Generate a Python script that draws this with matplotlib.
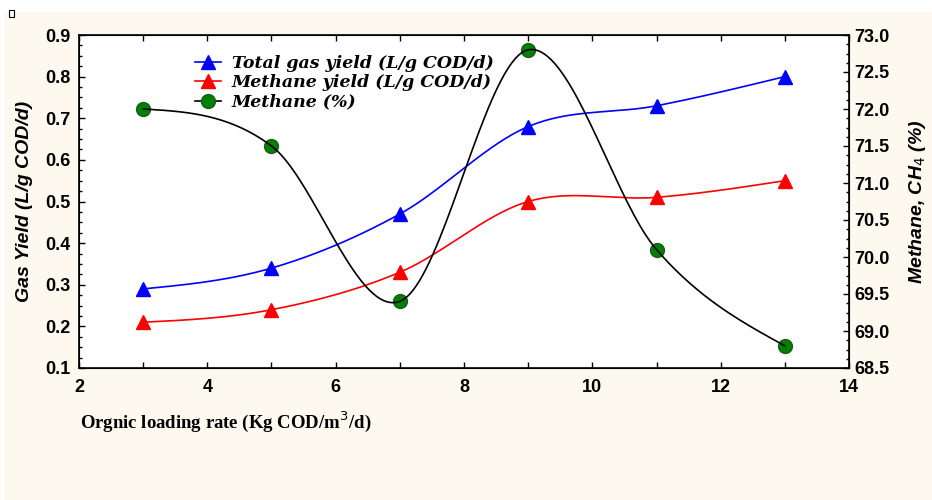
import numpy as np
import matplotlib
matplotlib.use('Agg')
import matplotlib.pyplot as plt
from matplotlib.patches import Rectangle
from matplotlib.ticker import MultipleLocator, FormatStrFormatter
from matplotlib.font_manager import FontProperties

olr = [3, 5, 7, 9, 11, 13]
total_gas = [0.29, 0.34, 0.47, 0.68, 0.73, 0.80]
methane_yield = [0.21, 0.24, 0.33, 0.50, 0.51, 0.55]
methane_pct = [72.0, 71.5, 69.4, 72.8, 70.1, 68.8]


def smooth(x, y, n=40):
    # hermite curve through the points, catmull-rom tangents inside, natural ends
    x = np.asarray(x, float)
    y = np.asarray(y, float)
    m = np.zeros_like(y)
    m[1:-1] = (y[2:] - y[:-2]) / (x[2:] - x[:-2])
    d0 = (y[1] - y[0]) / (x[1] - x[0])
    d1 = (y[-1] - y[-2]) / (x[-1] - x[-2])
    m[0] = (3 * d0 - m[1]) / 2
    m[-1] = (3 * d1 - m[-2]) / 2
    xs, ys = [], []
    for i in range(len(x) - 1):
        h = x[i + 1] - x[i]
        t = np.linspace(0, 1, n)
        h00 = 2 * t**3 - 3 * t**2 + 1
        h10 = t**3 - 2 * t**2 + t
        h01 = -2 * t**3 + 3 * t**2
        h11 = t**3 - t**2
        xs.append(x[i] + t * h)
        ys.append(h00 * y[i] + h10 * h * m[i] + h01 * y[i + 1] + h11 * h * m[i + 1])
    return np.concatenate(xs), np.concatenate(ys)


fig = plt.figure(figsize=(9.32, 5.0), dpi=100, facecolor='white')
fig.patches.append(Rectangle((4 / 932, 0), 1, 488 / 500, transform=fig.transFigure,
                             facecolor='#fdf9ee', edgecolor='none', zorder=-2))
fig.patches.append(Rectangle((9 / 932, 483 / 500), 5 / 932, 7 / 500, transform=fig.transFigure,
                             facecolor='none', edgecolor='black', linewidth=0.8, zorder=-1))

ax = fig.add_axes([79 / 932, 132 / 500, 770 / 932, 333 / 500])
ax.set_facecolor('white')
ax2 = ax.twinx()

tick_font = FontProperties(family='Liberation Sans', weight='bold', size=13)

ax.set_xlim(2, 14)
ax.set_ylim(0.1, 0.9)
ax2.set_ylim(68.5, 73.0)
ax.xaxis.set_major_locator(MultipleLocator(2))
ax.xaxis.set_minor_locator(MultipleLocator(1))
ax.yaxis.set_major_locator(MultipleLocator(0.1))
ax.yaxis.set_minor_locator(MultipleLocator(0.025))
ax2.yaxis.set_major_locator(MultipleLocator(0.5))
ax2.yaxis.set_minor_locator(MultipleLocator(0.125))
ax.yaxis.set_major_formatter(FormatStrFormatter('%.1f'))
ax2.yaxis.set_major_formatter(FormatStrFormatter('%.1f'))

ax.tick_params(axis='x', which='both', direction='in', top=True, length=4, width=1, pad=8)
ax.tick_params(axis='y', which='major', direction='in', length=4, width=1, pad=6)
ax.tick_params(axis='y', which='minor', direction='in', length=2, width=1)
ax2.tick_params(axis='y', which='major', direction='in', length=4, width=1, pad=4)
ax2.tick_params(axis='y', which='minor', direction='in', length=2, width=1)
for lab in ax.get_xticklabels() + ax.get_yticklabels() + ax2.get_yticklabels():
    lab.set_fontproperties(tick_font)
for sp in ax.spines.values():
    sp.set_linewidth(1.2)

xs, ys = smooth(olr, total_gas)
ax.plot(xs, ys, color='blue', lw=1.2, zorder=4)
ax.plot(olr, total_gas, '^', color='blue', ms=10, zorder=3)
xs, ys = smooth(olr, methane_yield)
ax.plot(xs, ys, color='red', lw=1.2, zorder=4)
ax.plot(olr, methane_yield, '^', color='red', ms=10, zorder=3)
xs, ys = smooth(olr, methane_pct)
ax2.plot(xs, ys, color='black', lw=1.2, zorder=4)
ax2.plot(olr, methane_pct, 'o', color='green', mec='#1a5c1a', ms=10, zorder=3)

ax.set_ylabel('Gas Yield (L/g COD/d)', family='Liberation Sans', weight='bold',
              style='italic', size=14, labelpad=9)
ax2.set_ylabel('Methane, CH$_4$ (%)', family='Liberation Sans', weight='bold',
               style='italic', size=14, labelpad=12)
fig.text(80 / 932, 78 / 500, 'Orgnic loading rate (Kg COD/m$^3$/d)', family='Liberation Serif',
         weight='bold', size=13.5, ha='left', va='center')

handles = [
    plt.Line2D([], [], color='blue', marker='^', ms=10, lw=1.2),
    plt.Line2D([], [], color='red', marker='^', ms=10, lw=1.2),
    plt.Line2D([], [], color='black', marker='o', mfc='green', mec='#1a5c1a', ms=10, lw=1.2),
]
labels = ['Total gas yield (L/g COD/d)', 'Methane yield (L/g COD/d)', 'Methane (%)']
ax2.legend(handles, labels, loc='upper left', bbox_to_anchor=(0.142, 0.962), borderaxespad=0,
           frameon=False, handlelength=1.5, handletextpad=0.6, labelspacing=0.15,
           prop=dict(family='DejaVu Serif', weight='bold', style='italic', size=12.5))

fig.savefig('out.png', dpi=100, facecolor=fig.get_facecolor())
